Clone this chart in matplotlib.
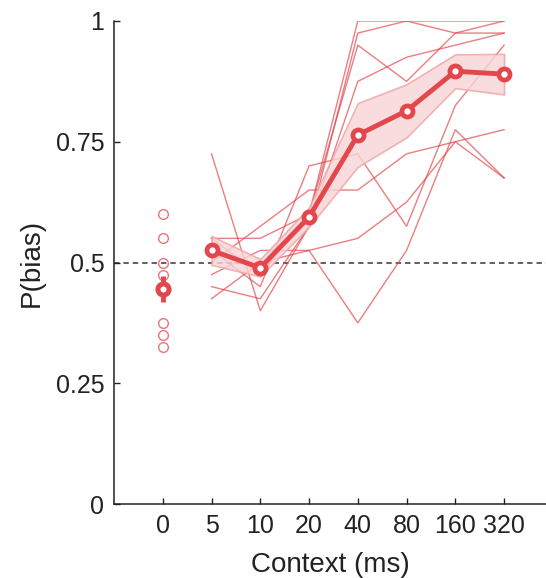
"""
P(bias) vs context duration: single subjects, group mean +/- SEM.
"""
import numpy as np
import matplotlib
matplotlib.use("Agg")
import matplotlib.pyplot as plt

plt.rcParams["font.family"] = ["Liberation Sans", "DejaVu Sans"]

RED = "#E3474C"
TXT = "#222222"

# ── Data ─────────────────────────────────────────────────────────────────────
context_labels = ["0", "5", "10", "20", "40", "80", "160", "320"]

# no-context condition: one value per subject
baseline_subj = [0.6, 0.55, 0.5, 0.475, 0.45, 0.375, 0.35, 0.325]
baseline_mean = 0.446
baseline_sem = 0.027

# single subjects, contexts 5..320 ms
subj_1 = [0.55, 0.475, 0.6, 1.0, 1.0, 1.0, 1.0]
subj_2 = [0.725, 0.4, 0.575, 0.975, 1.0, 0.975, 0.975]
subj_3 = [0.55, 0.55, 0.6, 0.95, 0.875, 0.975, 1.0]
subj_4 = [0.45, 0.425, 0.575, 0.875, 0.925, 0.95, 0.975]
subj_5 = [0.525, 0.45, 0.7, 0.725, 0.575, 0.825, 0.95]
subj_6 = [0.5, 0.575, 0.65, 0.65, 0.725, 0.75, 0.775]
subj_7 = [0.425, 0.5, 0.525, 0.55, 0.625, 0.75, 0.675]
subj_8 = [0.475, 0.525, 0.525, 0.375, 0.525, 0.775, 0.675]

# group mean and SEM, contexts 5..320 ms
group_mean = [0.525, 0.489, 0.594, 0.764, 0.814, 0.896, 0.890]
group_sem = [0.030, 0.018, 0.020, 0.066, 0.055, 0.035, 0.042]

subjects = [subj_1, subj_2, subj_3, subj_4, subj_5, subj_6, subj_7, subj_8]

# ── Figure ───────────────────────────────────────────────────────────────────
fig = plt.figure(figsize=(5.46, 5.78), dpi=100)
ax = fig.add_axes([114 / 546, 74 / 578, 432 / 546, 483 / 578])

x_ctx = np.arange(1, len(context_labels))
mean = np.array(group_mean)
sem = np.array(group_sem)

ax.axhline(0.5, color="#555555", linestyle=(0, (3, 2.2)), linewidth=1.3, zorder=1)

for s in subjects:
    ax.plot(x_ctx, s, color=RED, alpha=0.7, linewidth=1.0, zorder=2)

ax.fill_between(x_ctx, mean - sem, mean + sem, facecolor="#F8D5D6",
                edgecolor="#EFA3A5", linewidth=1.2, alpha=0.8, zorder=3)
ax.plot(x_ctx, mean, color=RED, linewidth=3.5, marker="o", markersize=8,
        markerfacecolor="white", markeredgewidth=3.4, zorder=5)

# no-context condition
ax.plot(np.zeros(len(baseline_subj)), baseline_subj, linestyle="none", marker="o",
        markersize=7, markerfacecolor="none", markeredgecolor=RED, alpha=0.75,
        markeredgewidth=1.0, zorder=4)
ax.errorbar([0], [baseline_mean], yerr=[baseline_sem], color=RED, linewidth=3.5,
            marker="o", markersize=8, markerfacecolor="white", markeredgewidth=3.6,
            capsize=0, zorder=5)

ax.set_xlim(-1, 7.86)
ax.set_ylim(0, 1)
ax.set_xticks(np.arange(len(context_labels)))
ax.set_xticklabels(context_labels)
ax.set_yticks([0, 0.25, 0.5, 0.75, 1])
ax.set_yticklabels(["0", "0.25", "0.5", "0.75", "1"])
ax.tick_params(direction="in", length=4, width=1, colors=TXT, labelsize=18, pad=7)
ax.tick_params(axis="x", pad=7)

for side in ["top", "right"]:
    ax.spines[side].set_visible(False)
for side in ["left", "bottom"]:
    ax.spines[side].set_color(TXT)
    ax.spines[side].set_linewidth(1.1)

ax.set_xlabel("Context (ms)", fontsize=20, color=TXT, labelpad=10)
ax.set_ylabel("P(bias)", fontsize=20, color=TXT, labelpad=8)

fig.savefig("out.png", dpi=100)
plt.close()
